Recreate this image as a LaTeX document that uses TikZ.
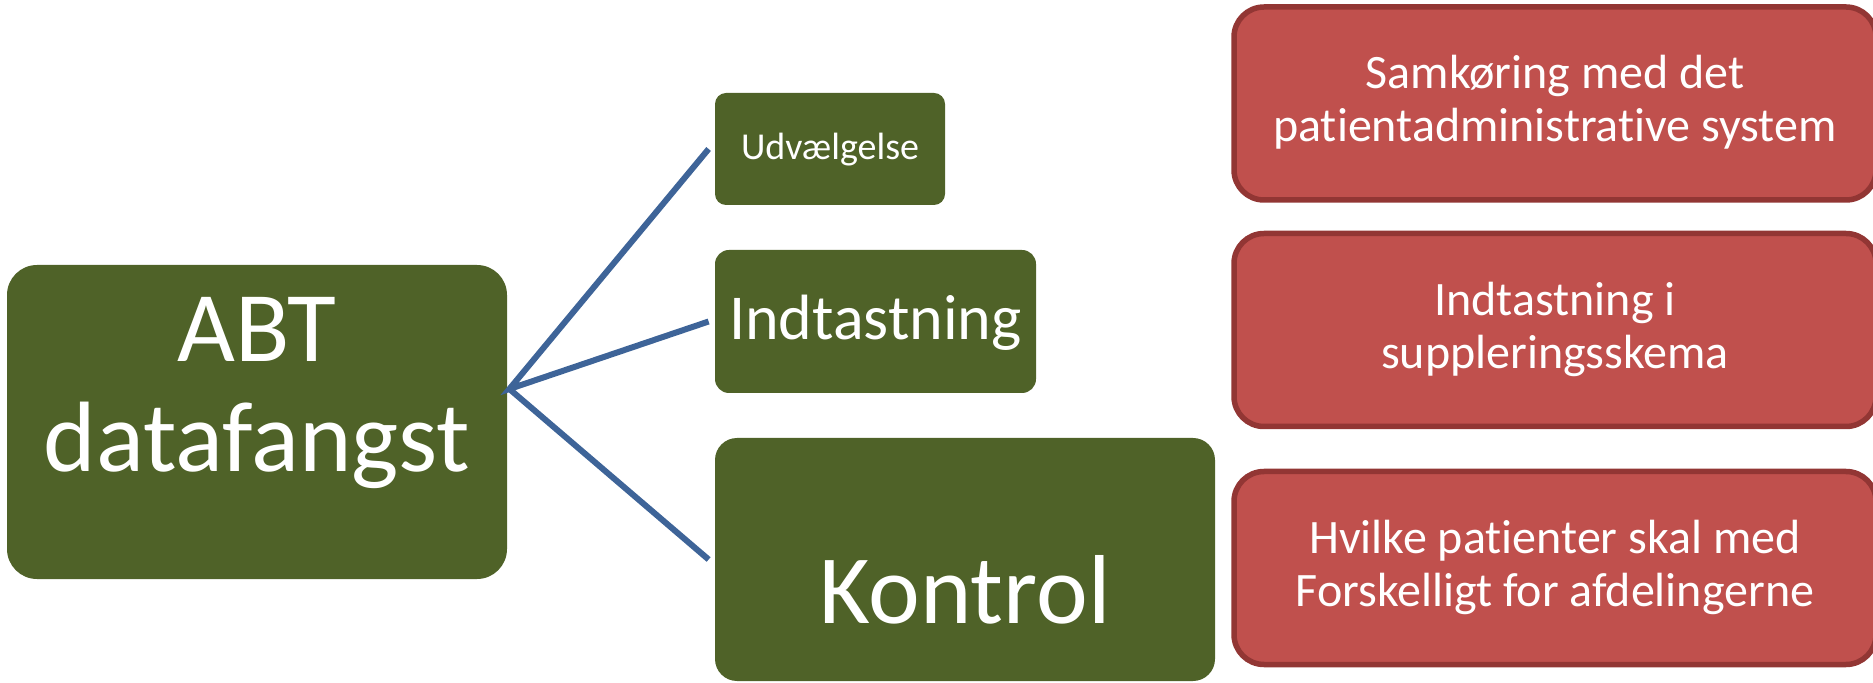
\documentclass[tikz,border=0pt]{standalone}
\usepackage{fontspec}
\setmainfont{Carlito}[Ligatures=NoCommon]
\definecolor{leafgreen}{RGB}{79,98,40}
\definecolor{brickfill}{RGB}{192,80,77}
\definecolor{brickedge}{RGB}{146,54,52}
\definecolor{linkblue}{RGB}{62,100,152}
\begin{document}
\begin{tikzpicture}[x=0.5pt,y=-0.5pt,
  greenbox/.style={fill=leafgreen, draw=none, inner sep=0pt},
  redbox/.style={fill=brickfill, draw=brickedge, line width=2.75pt,
    rounded corners=15pt, inner sep=0pt,
    minimum width=321pt, minimum height=96.5pt},
  boxtext/.style={text=white, inner sep=0pt, align=center, anchor=base},
  redtext/.style={boxtext, font=\fontsize{24pt}{26.5pt}\selectfont},
  link/.style={draw=linkblue, line width=3pt}]
\useasboundingbox (0,0) rectangle (1873,683);

% root box
\node[greenbox, rounded corners=15pt, minimum width=250pt, minimum height=157pt]
  (abt) at (257,422) {};
% branch boxes
\node[greenbox, rounded corners=5.5pt, minimum width=115pt, minimum height=56pt]
  (udv) at (830,149) {};
\node[greenbox, rounded corners=7pt, minimum width=160.5pt, minimum height=71.5pt]
  (indt) at (875.5,321.5) {};
\node[greenbox, rounded corners=11pt, minimum width=250pt, minimum height=121.5pt]
  (kon) at (965,559.5) {};
% detail boxes
\node[redbox] (r1) at (1555,103.5) {};
\node[redbox] (r2) at (1555,330) {};
\node[redbox] (r3) at (1555,568) {};

% labels (anchored on the baseline of the last line)
\node[boxtext, font=\fontsize{50pt}{55pt}\selectfont] (tabt) at (257,472) {ABT\\datafangst};
\node[boxtext, font=\fontsize{19pt}{23pt}\selectfont] (tudv) at (830,160) {Udvælgelse};
\node[boxtext, font=\fontsize{32pt}{38pt}\selectfont] (tindt) at (875.5,340) {Indtastning};
\node[boxtext, font=\fontsize{49pt}{58pt}\selectfont] (tkon) at (965,623) {Kontrol};
\node[redtext] (tr1) at (1555,142) {Samkøring med det\\patientadministrative system};
\node[redtext] (tr2) at (1555,368.5) {Indtastning i\\suppleringsskema};
\node[redtext] (tr3) at (1555,606.5) {Hvilke patienter skal med\\Forskelligt for afdelingerne};

% connectors
\coordinate (hub) at ([shift={(2,-33)}]abt.east);
\draw[link] ([xshift=-3pt]udv.west) -- (hub) -- ([xshift=-3pt]indt.west);
\draw[link] (hub) -- ([xshift=-3pt]kon.west);
\end{tikzpicture}
\end{document}
